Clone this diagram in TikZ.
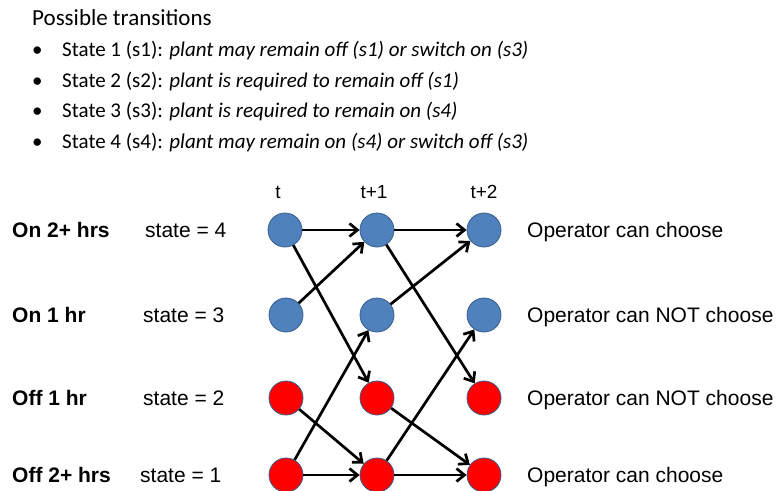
\documentclass[tikz,border=0pt]{standalone}
\usepackage{fontspec}
\setmainfont{Liberation Sans}
\newfontfamily\calib{Carlito}
\usepackage{xcolor}
\usetikzlibrary{arrows.meta}

\definecolor{onblue}{HTML}{4F81BD}
\definecolor{rimblue}{HTML}{385D8A}
\definecolor{offred}{HTML}{FF0000}

\begin{document}
\begin{tikzpicture}[x=1pt, y=-1pt, font=\fontsize{21}{25}\selectfont,
	on/.style={circle, fill=onblue, draw=rimblue, line width=0.8pt, minimum size=34pt, inner sep=0pt},
	off/.style={on, fill=offred},
	hdr/.style={anchor=base, font=\fontsize{19}{23}\selectfont},
	lbl/.style={anchor=base west, inner sep=0pt},
	bul/.style={anchor=base west, inner sep=0pt, font=\calib\fontsize{21}{25}\selectfont},
	>={Straight Barb[length=8pt, width=13pt]}, move/.style={->, line width=2.7pt}]
\useasboundingbox (0,0) rectangle (779,490);

% list of transitions
\node[bul, font=\calib\fontsize{23}{27}\selectfont] (title) at (32,25) {Possible transitions};
\node[bul] (s1) at (32,56.5) {\makebox[30pt][l]{•}State 1 (s1): \textit{plant may remain off (s1) or switch on (s3)}};
\node[bul] (s2) at (32,87) {\makebox[30pt][l]{•}State 2 (s2): \textit{plant is required to remain off (s1)}};
\node[bul] (s3) at (32,117.5) {\makebox[30pt][l]{•}State 3 (s3): \textit{plant is required to remain on (s4)}};
\node[bul] (s4) at (32,148) {\makebox[30pt][l]{•}State 4 (s4): \textit{plant may remain on (s4) or switch off (s3)}};

% time steps
\node[hdr] (t0) at (278,198) {t};
\node[hdr] (t1) at (374,198) {t+1};
\node[hdr] (t2) at (484,198) {t+2};

% rows
\node[lbl, font=\bfseries\fontsize{21}{25}\selectfont] (n4) at (12,237.5) {On 2+ hrs};
\node[lbl, font=\bfseries\fontsize{21}{25}\selectfont] (n3) at (12,322.5) {On 1 hr};
\node[lbl, font=\bfseries\fontsize{21}{25}\selectfont] (n2) at (12,405.5) {Off 1 hr};
\node[lbl, font=\bfseries\fontsize{21}{25}\selectfont] (n1) at (12,482.5) {Off 2+ hrs};
\node[lbl] (v4) at (145,237.5) {state = 4};
\node[lbl] (v3) at (143,322.5) {state = 3};
\node[lbl] (v2) at (143,405.5) {state = 2};
\node[lbl] (v1) at (140,482.5) {state = 1};
\node[lbl] (c4) at (527,237.5) {Operator can choose};
\node[lbl] (c3) at (527,322.5) {Operator can NOT choose};
\node[lbl] (c2) at (527,405.5) {Operator can NOT choose};
\node[lbl] (c1) at (527,482.5) {Operator can choose};

% states
\node[on] (A4) at (285,230) {};
\node[on] (A3) at (286,315) {};
\node[off] (A2) at (286,398) {};
\node[off] (A1) at (286,475) {};
\node[on] (B4) at (377,230) {};
\node[on] (B3) at (377,315) {};
\node[off] (B2) at (377,398) {};
\node[off] (B1) at (377,475) {};
\node[on] (C4) at (484,230) {};
\node[on] (C3) at (484,315) {};
\node[off] (C2) at (484,398) {};
\node[off] (C1) at (484,475) {};

\draw[move] (A4) -- (B4);
\draw[move] (A4) -- (B2);
\draw[move] (A3) -- (B4);
\draw[move] (A2) -- (B1);
\draw[move] (A1) -- (B3);
\draw[move] (A1) -- (B1);
\draw[move] (B4) -- (C4);
\draw[move] (B4) -- (C2);
\draw[move] (B3) -- (C4);
\draw[move] (B2) -- (C1);
\draw[move] (B1) -- (C3);
\draw[move] (B1) -- (C1);
\end{tikzpicture}
\end{document}
